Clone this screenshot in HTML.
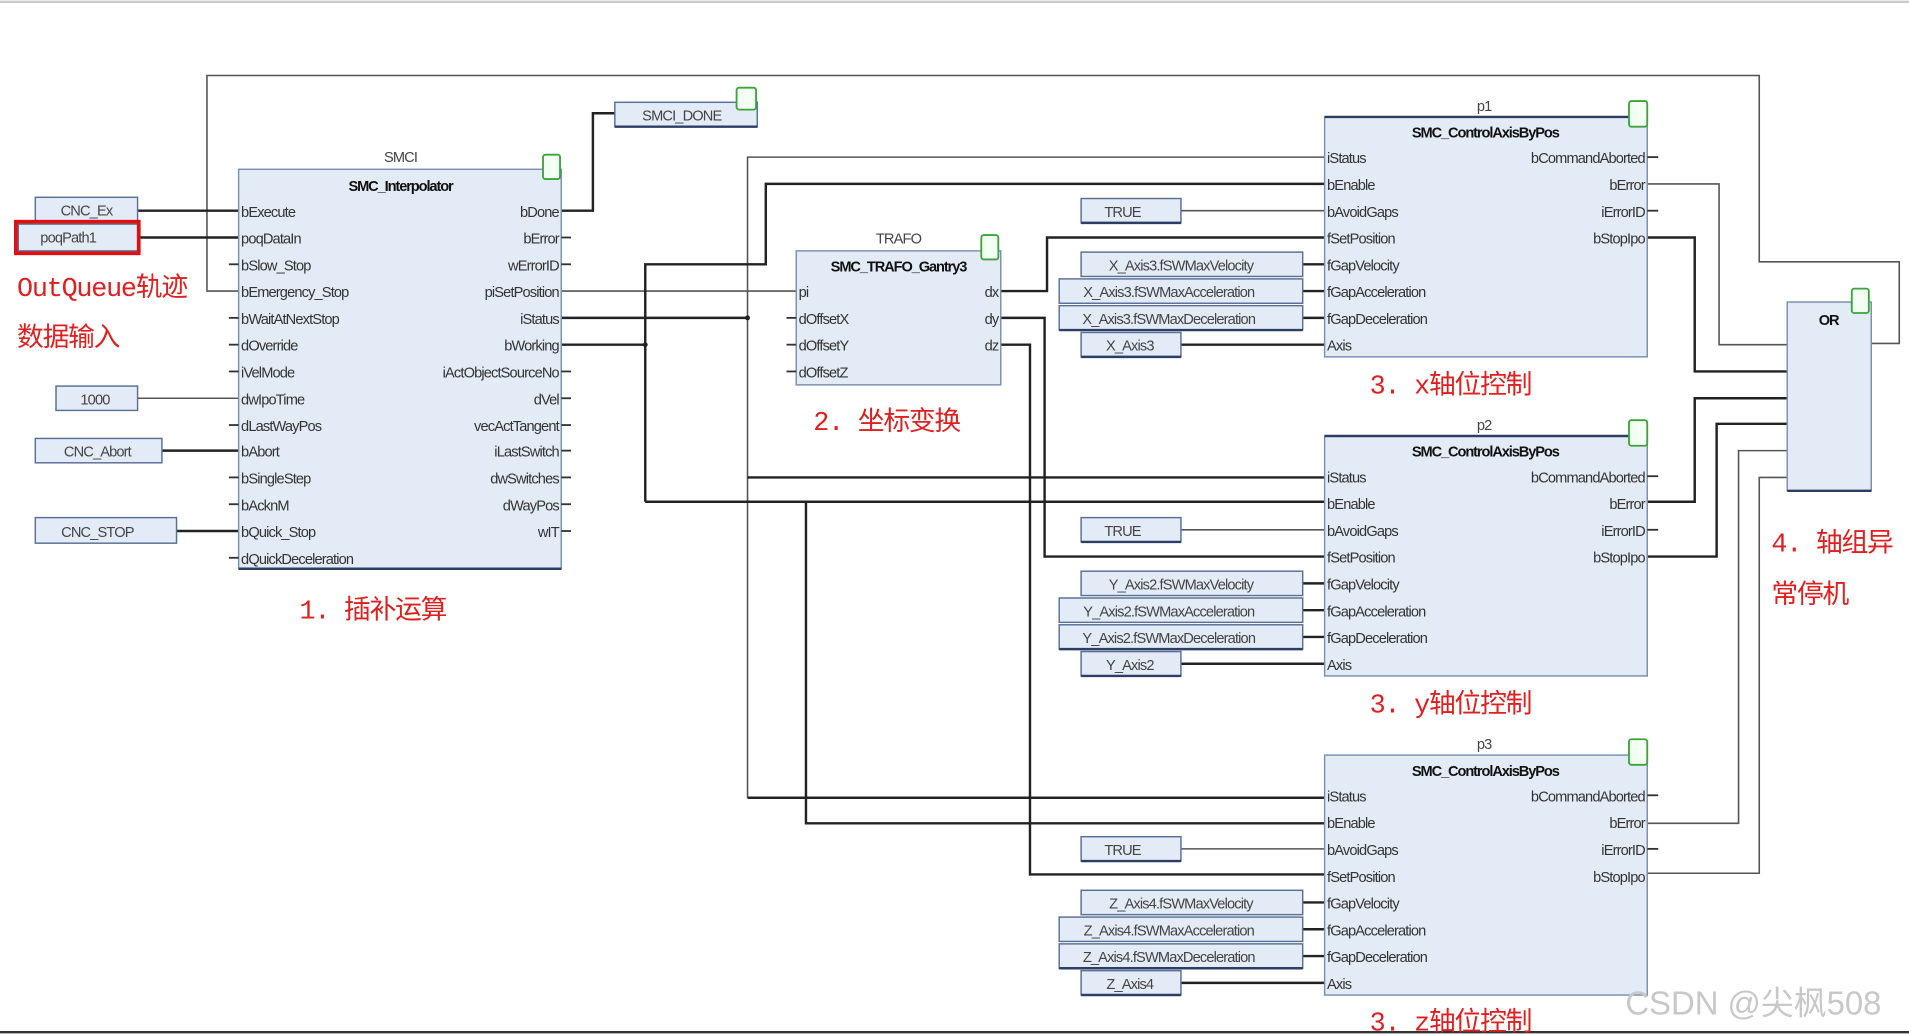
<!DOCTYPE html>
<html><head><meta charset="utf-8"><style>
html,body{margin:0;padding:0;background:#fff;overflow:hidden}
svg{display:block}
text{font-family:"Liberation Sans",sans-serif;font-size:12px;fill:#333;letter-spacing:-0.7px}
.h{font-weight:bold;fill:#111;text-anchor:middle;letter-spacing:-0.9px}
.t{text-anchor:middle;fill:#444}
.r{text-anchor:end}
.red{font-family:"Liberation Mono","Noto Sans CJK SC",monospace;fill:#e02020;font-size:22px;letter-spacing:-1px}
.blk{fill:#e3ebf7;stroke:#7a90b0;stroke-width:1.2}
.bb{stroke:#2c3e66;stroke-width:2}
.var{fill:#e3ebf7;stroke:#5a7096;stroke-width:1.2}
.g{fill:#f4fff4;stroke:#3aa33a;stroke-width:1.5}
.w{fill:none;stroke:#222;stroke-width:2}
.wl{fill:none;stroke:#555;stroke-width:1.3}
.s{stroke:#333;stroke-width:1.5}
</style></head><body>
<svg width="1909" height="1034" viewBox="0 0 1568 849" preserveAspectRatio="none" xmlns="http://www.w3.org/2000/svg">
<rect x="0" y="0" width="1568" height="849" fill="#fff"/>
<line x1="0" y1="1.5" x2="1568" y2="1.5" stroke="#ccc" stroke-width="2"/>
<line x1="0" y1="847.5" x2="1568" y2="847.5" stroke="#333" stroke-width="2"/>

<!-- wires -->
<polyline class="wl" points="196,239 170,239 170,62 1445,62 1445,215 1560,215 1560,282 1537,282"/>
<polyline class="w" points="461,173 487,173 487,93 505,93"/>
<line class="w" x1="113" y1="173" x2="196" y2="173"/>
<line class="w" x1="113" y1="195" x2="196" y2="195"/>
<line class="wl" x1="113" y1="327" x2="196" y2="327"/>
<line class="w" x1="133" y1="370" x2="196" y2="370"/>
<line class="w" x1="145" y1="436" x2="196" y2="436"/>
<line class="wl" x1="461" y1="239" x2="654" y2="239"/>
<polyline class="w" points="461,261 614,261"/>
<polyline class="wl" points="614,655 614,129 1088,129"/>
<line class="w" x1="614" y1="392" x2="1088" y2="392"/>
<line class="w" x1="614" y1="655" x2="1088" y2="655"/>
<polyline class="w" points="461,283 530,283"/>
<polyline class="w" points="530,412 530,217 629,217 629,151 1088,151"/>
<line class="w" x1="530" y1="412" x2="1088" y2="412"/>
<polyline class="w" points="662,412 662,676 1088,676"/>
<polyline class="w" points="822,239 860,239 860,195 1088,195"/>
<polyline class="w" points="822,261 858,261 858,457 1088,457"/>
<polyline class="w" points="822,283 846,283 846,718 1088,718"/>
<circle cx="530" cy="283" r="2" fill="#222"/><circle cx="614" cy="261" r="2" fill="#222"/>
<!-- OR inputs -->
<polyline class="wl" points="1353,151 1412,151 1412,283 1468,283"/>
<polyline class="w" points="1353,195 1392,195 1392,305 1468,305"/>
<polyline class="w" points="1353,412 1392,412 1392,327 1468,327"/>
<polyline class="w" points="1353,457 1410,457 1410,348 1468,348"/>
<polyline class="wl" points="1353,676 1428,676 1428,370 1468,370"/>
<polyline class="wl" points="1353,717 1445,717 1445,392 1468,392"/>

<!-- variable boxes left -->
<rect class="var" x="29" y="162" width="84" height="20"/><text class="t" x="71" y="177">CNC_Ex</text>
<rect class="var" x="15" y="184" width="98" height="22"/><rect x="13" y="182" width="101" height="26" fill="none" stroke="#e01010" stroke-width="3"/><text class="t" x="56" y="199">poqPath1</text>
<rect class="var" x="46" y="317" width="67" height="20"/><text class="t" x="78" y="332">1000</text>
<rect class="var" x="29" y="360" width="104" height="20"/><text class="t" x="80" y="375">CNC_Abort</text>
<rect class="var" x="29" y="425" width="116" height="21"/><text class="t" x="80" y="441">CNC_STOP</text>
<text class="red" x="14" y="243">OutQueue轨迹</text>
<text class="red" x="14" y="284">数据输入</text>

<!-- SMCI -->
<text class="t" x="329" y="133">SMCI</text>
<rect class="blk" x="196" y="139" width="265" height="328"/><line class="bb" x1="196" y1="467" x2="461" y2="467"/>
<rect class="g" x="446" y="127" width="14" height="20" rx="2"/>
<text class="h" x="329" y="157">SMC_Interpolator</text>
<g>
<line class="s" x1="188" y1="217" x2="196" y2="217"/><line class="s" x1="188" y1="261" x2="196" y2="261"/><line class="s" x1="188" y1="283" x2="196" y2="283"/><line class="s" x1="188" y1="305" x2="196" y2="305"/><line class="s" x1="188" y1="349" x2="196" y2="349"/><line class="s" x1="188" y1="392" x2="196" y2="392"/><line class="s" x1="188" y1="414" x2="196" y2="414"/><line class="s" x1="188" y1="458" x2="196" y2="458"/>
<line class="s" x1="461" y1="195" x2="469" y2="195"/><line class="s" x1="461" y1="217" x2="469" y2="217"/><line class="s" x1="461" y1="305" x2="469" y2="305"/><line class="s" x1="461" y1="327" x2="469" y2="327"/><line class="s" x1="461" y1="349" x2="469" y2="349"/><line class="s" x1="461" y1="370" x2="469" y2="370"/><line class="s" x1="461" y1="392" x2="469" y2="392"/><line class="s" x1="461" y1="414" x2="469" y2="414"/><line class="s" x1="461" y1="436" x2="469" y2="436"/>
</g>
<text x="198" y="178">bExecute</text><text x="198" y="200">poqDataIn</text><text x="198" y="222">bSlow_Stop</text><text x="198" y="244">bEmergency_Stop</text><text x="198" y="266">bWaitAtNextStop</text><text x="198" y="288">dOverride</text><text x="198" y="310">iVelMode</text><text x="198" y="332">dwIpoTime</text><text x="198" y="354">dLastWayPos</text><text x="198" y="375">bAbort</text><text x="198" y="397">bSingleStep</text><text x="198" y="419">bAcknM</text><text x="198" y="441">bQuick_Stop</text><text x="198" y="463">dQuickDeceleration</text>
<text class="r" x="459" y="178">bDone</text><text class="r" x="459" y="200">bError</text><text class="r" x="459" y="222">wErrorID</text><text class="r" x="459" y="244">piSetPosition</text><text class="r" x="459" y="266">iStatus</text><text class="r" x="459" y="288">bWorking</text><text class="r" x="459" y="310">iActObjectSourceNo</text><text class="r" x="459" y="332">dVel</text><text class="r" x="459" y="354">vecActTangent</text><text class="r" x="459" y="375">iLastSwitch</text><text class="r" x="459" y="397">dwSwitches</text><text class="r" x="459" y="419">dWayPos</text><text class="r" x="459" y="441">wIT</text>
<text class="red" x="246" y="508">1. 插补运算</text>

<!-- SMCI_DONE -->
<rect class="var" x="505" y="84" width="117" height="20"/><line class="bb" x1="505" y1="104" x2="622" y2="104"/><text class="t" x="560" y="99">SMCI_DONE</text>
<rect class="g" x="605" y="72" width="16" height="18" rx="2"/>

<!-- TRAFO -->
<text class="t" x="738" y="200">TRAFO</text>
<rect class="blk" x="654" y="206" width="168" height="110"/>
<rect class="g" x="806" y="193" width="14" height="20" rx="2"/>
<text class="h" x="738" y="223">SMC_TRAFO_Gantry3</text>
<line class="s" x1="646" y1="261" x2="654" y2="261"/><line class="s" x1="646" y1="283" x2="654" y2="283"/><line class="s" x1="646" y1="305" x2="654" y2="305"/>
<text x="656" y="244">pi</text><text x="656" y="266">dOffsetX</text><text x="656" y="288">dOffsetY</text><text x="656" y="310">dOffsetZ</text>
<text class="r" x="820" y="244">dx</text><text class="r" x="820" y="266">dy</text><text class="r" x="820" y="288">dz</text>
<text class="red" x="668" y="353">2. 坐标变换</text>

<!-- p1 -->
<g>
<line class="wl" x1="970" y1="173" x2="1088" y2="173"/>
<line class="w" x1="1070" y1="217" x2="1088" y2="217"/><line class="w" x1="1070" y1="239" x2="1088" y2="239"/><line class="w" x1="1070" y1="261" x2="1088" y2="261"/><line class="w" x1="970" y1="283" x2="1088" y2="283"/>
<rect class="var" x="888" y="163" width="82" height="20"/><line class="bb" x1="888" y1="183" x2="970" y2="183"/><text class="t" x="922" y="178">TRUE</text>
<rect class="var" x="888" y="207" width="182" height="20"/><text class="t" x="970" y="222">X_Axis3.fSWMaxVelocity</text>
<rect class="var" x="870" y="229" width="200" height="20"/><text class="t" x="960" y="244">X_Axis3.fSWMaxAcceleration</text>
<rect class="var" x="870" y="251" width="200" height="20"/><line class="bb" x1="870" y1="271" x2="1070" y2="271"/><text class="t" x="960" y="266">X_Axis3.fSWMaxDeceleration</text>
<rect class="var" x="888" y="273" width="82" height="20"/><line class="bb" x1="888" y1="293" x2="970" y2="293"/><text class="t" x="928" y="288">X_Axis3</text>
<text class="t" x="1219" y="91">p1</text>
<rect class="blk" x="1088" y="96" width="265" height="197"/><line class="bb" x1="1088" y1="96" x2="1353" y2="96"/>
<rect class="g" x="1338" y="83" width="15" height="21" rx="2"/>
<text class="h" x="1220" y="113">SMC_ControlAxisByPos</text>
<text x="1090" y="134">iStatus</text><text x="1090" y="156">bEnable</text><text x="1090" y="178">bAvoidGaps</text><text x="1090" y="200">fSetPosition</text><text x="1090" y="222">fGapVelocity</text><text x="1090" y="244">fGapAcceleration</text><text x="1090" y="266">fGapDeceleration</text><text x="1090" y="288">Axis</text>
<text class="r" x="1351" y="134">bCommandAborted</text><text class="r" x="1351" y="156">bError</text><text class="r" x="1351" y="178">iErrorID</text><text class="r" x="1351" y="200">bStopIpo</text>
<line class="s" x1="1353" y1="129" x2="1362" y2="129"/><line class="s" x1="1353" y1="173" x2="1362" y2="173"/>
</g>
<text class="red" x="1125" y="323">3. x轴位控制</text>

<!-- p2 -->
<g transform="translate(0,262)">
<line class="wl" x1="970" y1="173" x2="1088" y2="173"/>
<line class="w" x1="1070" y1="217" x2="1088" y2="217"/><line class="w" x1="1070" y1="239" x2="1088" y2="239"/><line class="w" x1="1070" y1="261" x2="1088" y2="261"/><line class="w" x1="970" y1="283" x2="1088" y2="283"/>
<rect class="var" x="888" y="163" width="82" height="20"/><line class="bb" x1="888" y1="183" x2="970" y2="183"/><text class="t" x="922" y="178">TRUE</text>
<rect class="var" x="888" y="207" width="182" height="20"/><text class="t" x="970" y="222">Y_Axis2.fSWMaxVelocity</text>
<rect class="var" x="870" y="229" width="200" height="20"/><text class="t" x="960" y="244">Y_Axis2.fSWMaxAcceleration</text>
<rect class="var" x="870" y="251" width="200" height="20"/><line class="bb" x1="870" y1="271" x2="1070" y2="271"/><text class="t" x="960" y="266">Y_Axis2.fSWMaxDeceleration</text>
<rect class="var" x="888" y="273" width="82" height="20"/><line class="bb" x1="888" y1="293" x2="970" y2="293"/><text class="t" x="928" y="288">Y_Axis2</text>
<text class="t" x="1219" y="91">p2</text>
<rect class="blk" x="1088" y="96" width="265" height="197"/><line class="bb" x1="1088" y1="96" x2="1353" y2="96"/>
<rect class="g" x="1338" y="83" width="15" height="21" rx="2"/>
<text class="h" x="1220" y="113">SMC_ControlAxisByPos</text>
<text x="1090" y="134">iStatus</text><text x="1090" y="156">bEnable</text><text x="1090" y="178">bAvoidGaps</text><text x="1090" y="200">fSetPosition</text><text x="1090" y="222">fGapVelocity</text><text x="1090" y="244">fGapAcceleration</text><text x="1090" y="266">fGapDeceleration</text><text x="1090" y="288">Axis</text>
<text class="r" x="1351" y="134">bCommandAborted</text><text class="r" x="1351" y="156">bError</text><text class="r" x="1351" y="178">iErrorID</text><text class="r" x="1351" y="200">bStopIpo</text>
<line class="s" x1="1353" y1="129" x2="1362" y2="129"/><line class="s" x1="1353" y1="173" x2="1362" y2="173"/>
</g>
<text class="red" x="1125" y="585">3. y轴位控制</text>

<!-- p3 -->
<g transform="translate(0,524)">
<line class="wl" x1="970" y1="173" x2="1088" y2="173"/>
<line class="w" x1="1070" y1="217" x2="1088" y2="217"/><line class="w" x1="1070" y1="239" x2="1088" y2="239"/><line class="w" x1="1070" y1="261" x2="1088" y2="261"/><line class="w" x1="970" y1="283" x2="1088" y2="283"/>
<rect class="var" x="888" y="163" width="82" height="20"/><line class="bb" x1="888" y1="183" x2="970" y2="183"/><text class="t" x="922" y="178">TRUE</text>
<rect class="var" x="888" y="207" width="182" height="20"/><text class="t" x="970" y="222">Z_Axis4.fSWMaxVelocity</text>
<rect class="var" x="870" y="229" width="200" height="20"/><text class="t" x="960" y="244">Z_Axis4.fSWMaxAcceleration</text>
<rect class="var" x="870" y="251" width="200" height="20"/><line class="bb" x1="870" y1="271" x2="1070" y2="271"/><text class="t" x="960" y="266">Z_Axis4.fSWMaxDeceleration</text>
<rect class="var" x="888" y="273" width="82" height="20"/><line class="bb" x1="888" y1="293" x2="970" y2="293"/><text class="t" x="928" y="288">Z_Axis4</text>
<text class="t" x="1219" y="91">p3</text>
<rect class="blk" x="1088" y="96" width="265" height="197"/>
<rect class="g" x="1338" y="83" width="15" height="21" rx="2"/>
<text class="h" x="1220" y="113">SMC_ControlAxisByPos</text>
<text x="1090" y="134">iStatus</text><text x="1090" y="156">bEnable</text><text x="1090" y="178">bAvoidGaps</text><text x="1090" y="200">fSetPosition</text><text x="1090" y="222">fGapVelocity</text><text x="1090" y="244">fGapAcceleration</text><text x="1090" y="266">fGapDeceleration</text><text x="1090" y="288">Axis</text>
<text class="r" x="1351" y="134">bCommandAborted</text><text class="r" x="1351" y="156">bError</text><text class="r" x="1351" y="178">iErrorID</text><text class="r" x="1351" y="200">bStopIpo</text>
<line class="s" x1="1353" y1="129" x2="1362" y2="129"/><line class="s" x1="1353" y1="173" x2="1362" y2="173"/>
</g>
<text class="red" x="1125" y="846">3. z轴位控制</text>

<!-- OR -->
<rect class="blk" x="1468" y="248" width="69" height="155"/><line class="bb" x1="1468" y1="403" x2="1537" y2="403"/>
<rect class="g" x="1521" y="237" width="14" height="20" rx="2"/>
<text class="h" x="1502" y="267">OR</text>
<text class="red" x="1455" y="453">4. 轴组异</text>
<text class="red" x="1455" y="495">常停机</text>

<text x="1335" y="833" style="font-size:27px;fill:#c8c8c8;letter-spacing:0;font-family:'Liberation Sans','Noto Sans CJK SC',sans-serif">CSDN @尖枫508</text>
</svg>
</body></html>
